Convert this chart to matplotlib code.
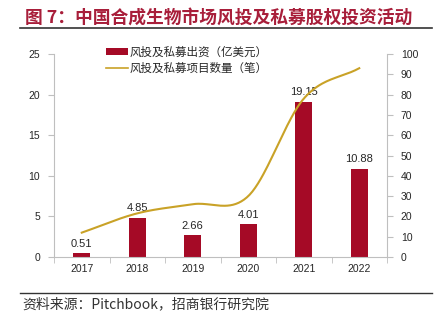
import numpy as np
import matplotlib
matplotlib.use("Agg")
import matplotlib.pyplot as plt
from matplotlib.lines import Line2D
from matplotlib.patches import Patch

plt.rcParams['font.family'] = ['Liberation Sans', 'Noto Sans CJK SC', 'DejaVu Sans']

years = ['2017', '2018', '2019', '2020', '2021', '2022']
funding = [0.51, 4.85, 2.66, 4.01, 19.15, 10.88]
deals = [12, 21.5, 26, 30, 78, 93]

bar_color = '#A50A26'
line_color = '#C9A227'
spine_color = '#BFBFBF'
text_color = '#262626'

def catmull_rom(xs, ys, n=40):
    xs = np.asarray(xs, float); ys = np.asarray(ys, float)
    px = np.concatenate([[2*xs[0]-xs[1]], xs, [2*xs[-1]-xs[-2]]])
    py = np.concatenate([[2*ys[0]-ys[1]], ys, [2*ys[-1]-ys[-2]]])
    ox, oy = [], []
    for i in range(1, len(px)-2):
        t = np.linspace(0, 1, n, endpoint=(i == len(px)-3))
        for arr, out in ((px, ox), (py, oy)):
            p0, p1, p2, p3 = arr[i-1], arr[i], arr[i+1], arr[i+2]
            out.extend(0.5*((2*p1) + (-p0+p2)*t + (2*p0-5*p1+4*p2-p3)*t**2 + (-p0+3*p1-3*p2+p3)*t**3))
    return np.array(ox), np.array(oy)

fig = plt.figure(figsize=(4.44, 3.22), dpi=100)
ax = fig.add_axes([54/444, 1-257/322, (387-54)/444, (257-54)/322])
x = np.arange(len(years))
bars = ax.bar(x, funding, width=0.31, color=bar_color, zorder=2)
for xi, v in zip(x, funding):
    ax.annotate(f'{v:.2f}', (xi, v), xytext=(0, 3), textcoords='offset points',
                ha='center', va='bottom', fontsize=8, color=text_color)
ax.set_ylim(0, 25)
ax.set_yticks(range(0, 26, 5))
ax.set_xlim(-0.5, 5.45)
ax.set_xticks(x)
ax.set_xticklabels(years)
ax.set_xticks(np.arange(-0.5, 6, 1), minor=True)
ax.tick_params(axis='x', which='major', length=0, labelsize=7.5, colors=text_color, pad=5)
ax.tick_params(axis='x', which='minor', length=4, color=spine_color)
ax.tick_params(axis='y', length=4, color=spine_color, labelsize=7.5, labelcolor=text_color, pad=6)
for s in ['top', 'right']:
    ax.spines[s].set_visible(False)
for s in ['left', 'bottom']:
    ax.spines[s].set_color(spine_color)

ax2 = ax.twinx()
sx, sy = catmull_rom(x, deals)
ax2.plot(sx, sy, color=line_color, lw=1.5, zorder=3)
ax2.set_ylim(0, 100)
ax2.set_yticks(range(0, 101, 10))
ax2.tick_params(axis='y', length=4, color=spine_color, labelsize=7.5, labelcolor=text_color, pad=6)
for s in ['top', 'left', 'bottom']:
    ax2.spines[s].set_visible(False)
ax2.spines['right'].set_color(spine_color)

handles = [Patch(facecolor=bar_color, edgecolor='none'),
           Line2D([0], [0], color=line_color, lw=1.2)]
labels = ['风投及私募出资（亿美元）', '风投及私募项目数量（笔）']
leg = ax.legend(handles, labels, loc='upper left', bbox_to_anchor=((100-54)/333, 1.07),
                frameon=False, borderpad=0, handlelength=1.9, handleheight=0.45,
                handletextpad=0.15, labelspacing=0.3,
                prop={'family': ['Noto Sans CJK SC'], 'size': 8.3})
for t in leg.get_texts():
    t.set_color(text_color)

fig.text(25/444, 1-18/322, '图 7：中国合成生物市场风投及私募股权投资活动', fontsize=12.8,
         fontweight='bold', color='#A81E3A', va='center', ha='left',
         family=['Noto Sans CJK SC', 'DejaVu Sans'])
fig.add_artist(Line2D([20/444, 432/444], [1-28/322, 1-28/322], color='#333333', lw=1.2))
fig.add_artist(Line2D([20/444, 432/444], [1-293/322, 1-293/322], color='#333333', lw=1.0))
fig.text(22/444, 1-304/322, '资料来源：Pitchbook，招商银行研究院', fontsize=10,
         color='#333333', va='center', ha='left', family=['Noto Sans CJK SC', 'DejaVu Sans'])

fig.savefig('out.png', dpi=100)
